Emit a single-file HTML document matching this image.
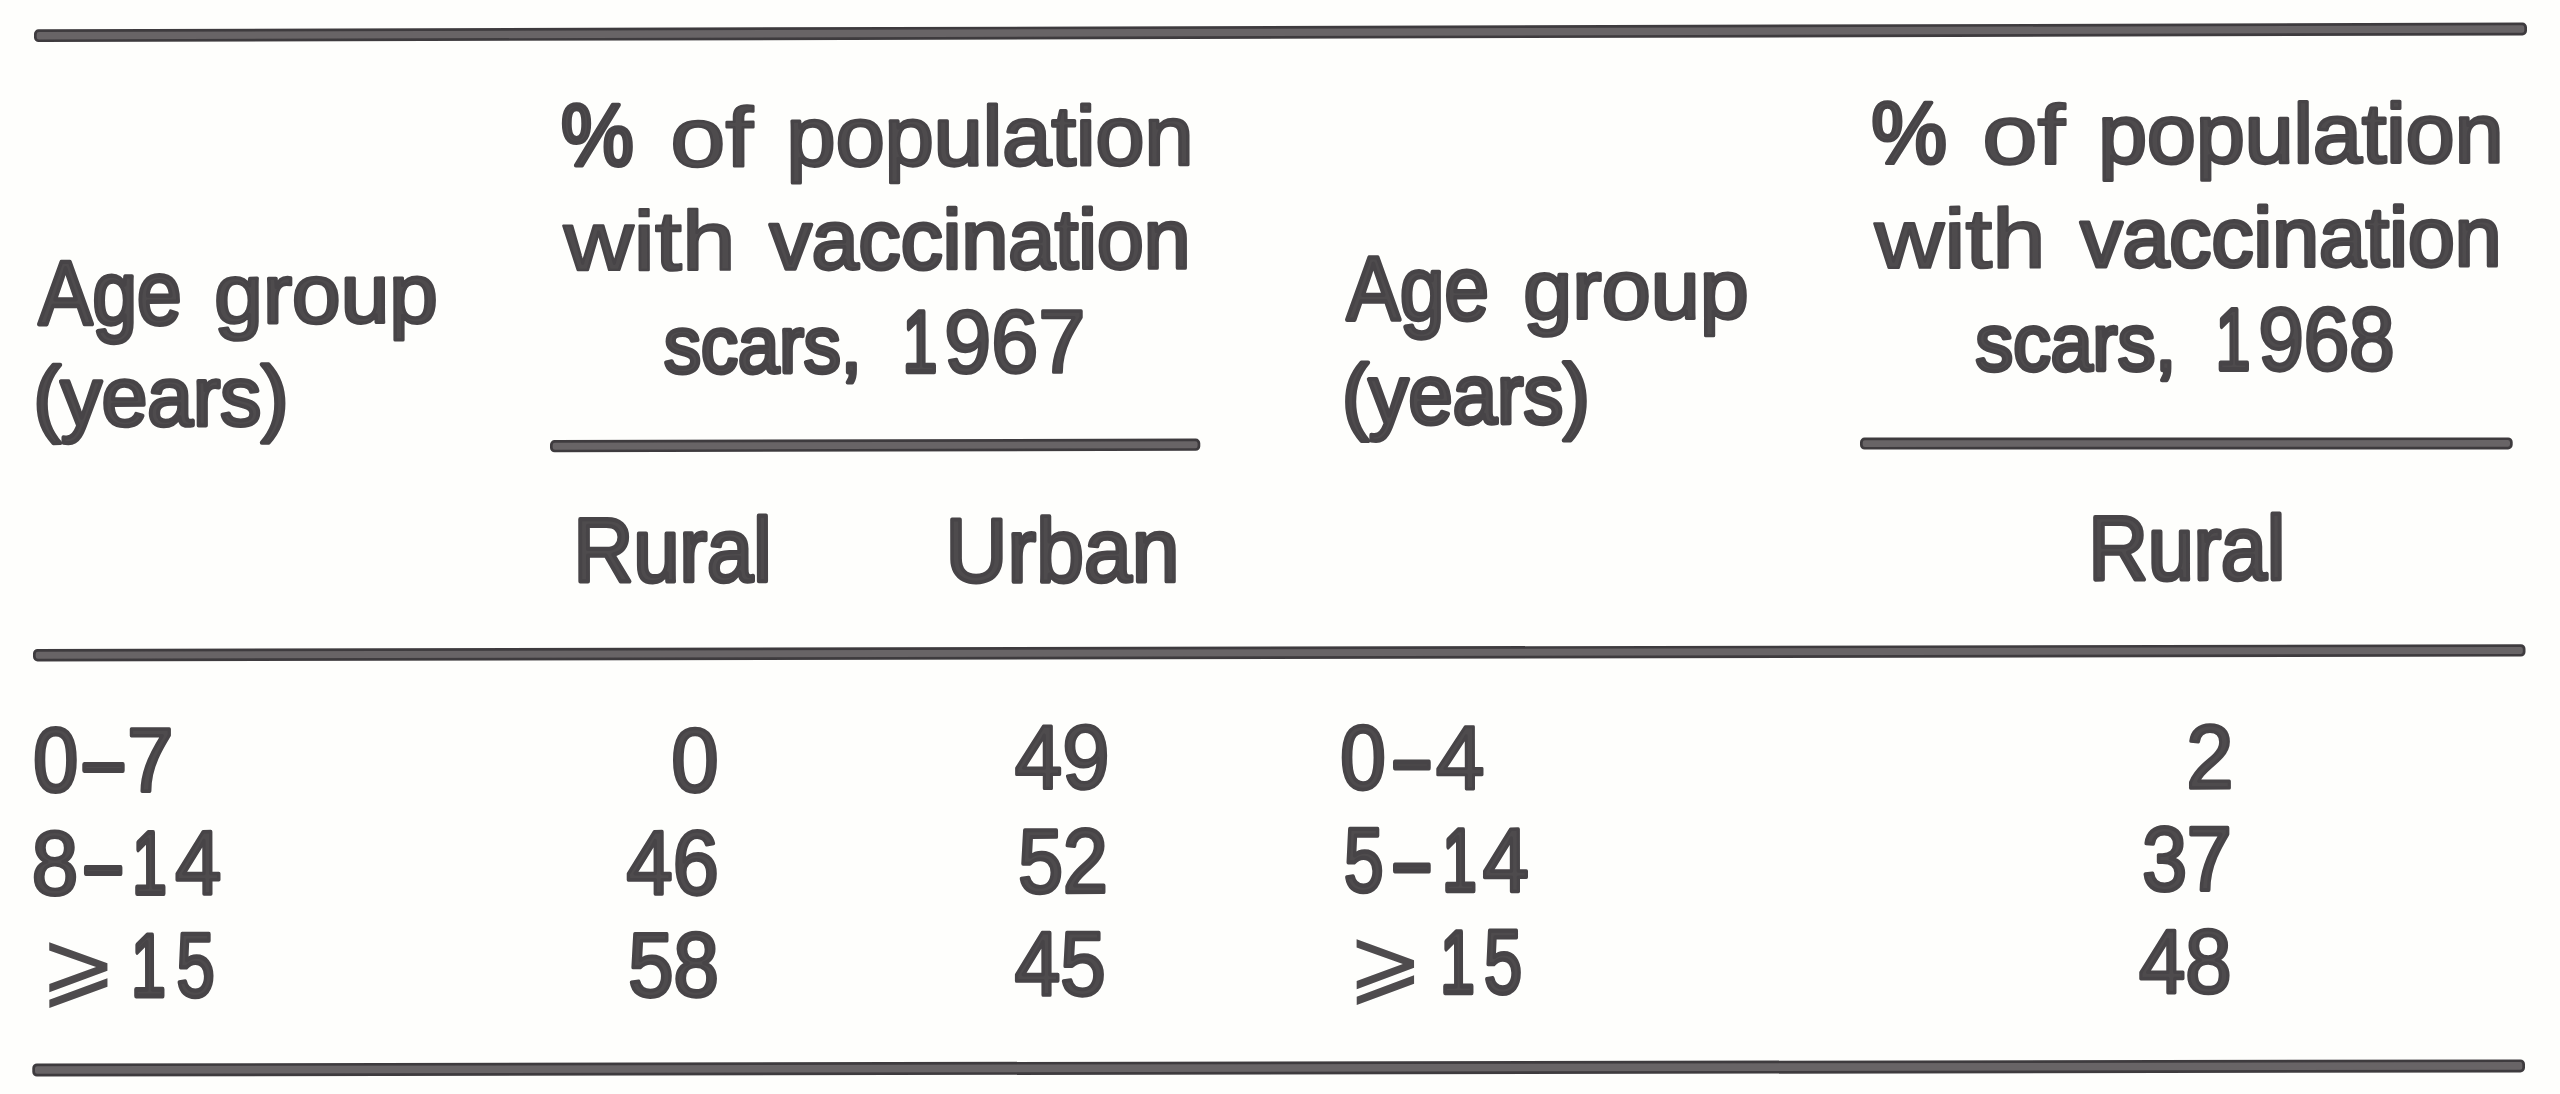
<!DOCTYPE html>
<html lang="en">
<head>
<meta charset="utf-8">
<title>Vaccination scar survey, 1967 and 1968</title>
<style>
html,body{margin:0;padding:0;background:#fefefc;}
body{width:2560px;height:1094px;overflow:hidden;position:relative;}
svg{position:absolute;left:0;top:0;display:block;filter:blur(0.7px);}
text{font-family:"Liberation Sans","DejaVu Sans",sans-serif;fill:#4e4b4d;stroke:#474447;stroke-width:3.0;stroke-linejoin:round;paint-order:fill stroke;}
.ge{stroke:none;}
.one{stroke-width:5;}
.dash{stroke-width:5;}
.r1{fill:#3e3b3e;}
.r2{fill:#686466;}
</style>
</head>
<body>
<svg width="2560" height="1094" viewBox="0 0 2560 1094">
<g>
<g transform="rotate(-0.1540 34.00 35.70)"><rect class="r1" x="34.00" y="29.30" width="2493.01" height="12.80" rx="4.6"/><rect class="r2" x="36.70" y="32.00" width="2487.61" height="7.40" rx="2.2"/></g>
<g transform="rotate(-0.1322 550.00 446.20)"><rect class="r1" x="550.00" y="440.05" width="650.30" height="12.30" rx="4.6"/><rect class="r2" x="552.70" y="442.75" width="644.90" height="6.90" rx="2.2"/></g>
<g transform="rotate(-0.0176 1860.00 443.60)"><rect class="r1" x="1860.00" y="437.60" width="652.70" height="12.00" rx="4.6"/><rect class="r2" x="1862.70" y="440.30" width="647.30" height="6.60" rx="2.2"/></g>
<g transform="rotate(-0.1103 33.00 655.20)"><rect class="r1" x="33.00" y="649.00" width="2492.50" height="12.40" rx="4.6"/><rect class="r2" x="35.70" y="651.70" width="2487.10" height="7.00" rx="2.2"/></g>
<g transform="rotate(-0.0942 32.30 1070.00)"><rect class="r1" x="32.30" y="1063.50" width="2492.70" height="13.00" rx="4.6"/><rect class="r2" x="35.00" y="1066.20" width="2487.30" height="7.60" rx="2.2"/></g>
<text transform="rotate(-0.13 236.3 326.0)"><tspan id="lA" stroke-width="4.30" x="38.80" y="323.85" font-size="90.50" textLength="143.00" lengthAdjust="spacingAndGlyphs">Age</tspan> <tspan id="lG" stroke-width="3.36" x="214.25" y="322.82" font-size="84.00" textLength="223.69" lengthAdjust="spacingAndGlyphs">group</tspan></text>
<text transform="rotate(-0.13 161.0 427.5)"><tspan id="lY" stroke-width="4.05" x="33.40" y="425.48" font-size="84.00" textLength="255.20" lengthAdjust="spacingAndGlyphs">(years)</tspan></text>
<text transform="rotate(-0.13 876.0 167.0)"><tspan id="lP1" stroke-width="4.26" x="561.10" y="164.87" font-size="88.00" textLength="72.80" lengthAdjust="spacingAndGlyphs">%</tspan> <tspan id="lP2" stroke-width="2.40" x="670.30" y="165.80" font-size="84.00" textLength="82.90" lengthAdjust="spacingAndGlyphs">of</tspan> <tspan id="lP3" stroke-width="3.27" x="786.64" y="165.37" font-size="84.00" textLength="406.96" lengthAdjust="spacingAndGlyphs">population</tspan></text>
<text transform="rotate(-0.13 874.5 270.6)"><tspan id="lW1" stroke-width="2.40" x="563.85" y="269.40" font-size="84.00" textLength="171.79" lengthAdjust="spacingAndGlyphs">with</tspan> <tspan id="lW2" stroke-width="3.77" x="769.80" y="268.72" font-size="84.00" textLength="420.75" lengthAdjust="spacingAndGlyphs">vaccination</tspan></text>
<text transform="rotate(-0.13 873.2 374.3)"><tspan id="lS1" stroke-width="4.30" x="664.00" y="372.15" font-size="80.00" textLength="197.45" lengthAdjust="spacingAndGlyphs">scars,</tspan> <tspan id="lS2a" class="one" x="902.73" y="371.80" font-size="87.00" textLength="34.50" lengthAdjust="spacingAndGlyphs">1</tspan><tspan id="lS2b" stroke-width="3.30" x="944.30" y="372.65" font-size="89.00" textLength="141.16" lengthAdjust="spacingAndGlyphs">967</tspan></text>
<text transform="rotate(-0.13 673.1 583.5)"><tspan id="lR" stroke-width="4.23" x="573.50" y="581.38" font-size="90.50" textLength="198.15" lengthAdjust="spacingAndGlyphs">Rural</tspan></text>
<text transform="rotate(-0.13 1062.8 583.5)"><tspan id="lU" stroke-width="3.82" x="945.50" y="581.59" font-size="90.50" textLength="234.05" lengthAdjust="spacingAndGlyphs">Urban</tspan></text>
<text transform="rotate(-0.13 1545.8 321.5)"><tspan id="rA" stroke-width="4.30" x="1346.80" y="319.35" font-size="90.50" textLength="142.05" lengthAdjust="spacingAndGlyphs">Age</tspan> <tspan id="rG" stroke-width="3.26" x="1523.20" y="318.67" font-size="84.00" textLength="225.74" lengthAdjust="spacingAndGlyphs">group</tspan></text>
<text transform="rotate(-0.13 1466.0 425.5)"><tspan id="rY" stroke-width="4.30" x="1342.30" y="423.35" font-size="84.00" textLength="247.40" lengthAdjust="spacingAndGlyphs">(years)</tspan></text>
<text transform="rotate(-0.13 2186.0 164.5)"><tspan id="rP1" stroke-width="3.79" x="1871.15" y="162.60" font-size="88.00" textLength="75.89" lengthAdjust="spacingAndGlyphs">%</tspan> <tspan id="rP2" stroke-width="2.40" x="1982.30" y="163.30" font-size="84.00" textLength="82.90" lengthAdjust="spacingAndGlyphs">of</tspan> <tspan id="rP3" stroke-width="3.32" x="2098.21" y="162.84" font-size="84.00" textLength="405.34" lengthAdjust="spacingAndGlyphs">population</tspan></text>
<text transform="rotate(-0.13 2185.5 268.3)"><tspan id="rW1" stroke-width="2.43" x="1874.80" y="267.09" font-size="84.00" textLength="170.84" lengthAdjust="spacingAndGlyphs">with</tspan> <tspan id="rW2" stroke-width="3.76" x="2080.42" y="266.42" font-size="84.00" textLength="421.18" lengthAdjust="spacingAndGlyphs">vaccination</tspan></text>
<text transform="rotate(-0.13 2184.1 372.0)"><tspan id="rS1" stroke-width="4.30" x="1975.62" y="369.85" font-size="80.00" textLength="200.50" lengthAdjust="spacingAndGlyphs">scars,</tspan> <tspan id="rS2a" class="one" x="2215.73" y="369.50" font-size="87.00" textLength="34.50" lengthAdjust="spacingAndGlyphs">1</tspan><tspan id="rS2b" stroke-width="3.70" x="2258.44" y="370.15" font-size="89.00" textLength="136.12" lengthAdjust="spacingAndGlyphs">968</tspan></text>
<text transform="rotate(-0.13 2187.2 581.5)"><tspan id="rR" stroke-width="4.30" x="2088.50" y="579.35" font-size="90.50" textLength="196.67" lengthAdjust="spacingAndGlyphs">Rural</tspan></text>
<text transform="rotate(-0.13 102.8 793.0)"><tspan id="d11a" stroke-width="3.84" x="33.20" y="791.08" font-size="90.50" textLength="45.03" lengthAdjust="spacingAndGlyphs">0</tspan><tspan id="d11b" class="dash" x="84.37" y="790.50" font-size="90.50" textLength="38.59" lengthAdjust="spacingAndGlyphs">–</tspan><tspan id="d11c" stroke-width="3.52" x="127.30" y="791.24" font-size="90.50" textLength="46.35" lengthAdjust="spacingAndGlyphs">7</tspan></text>
<text transform="rotate(-0.13 127.4 896.0)"><tspan id="d21a" stroke-width="3.48" x="31.68" y="894.26" font-size="90.50" textLength="46.50" lengthAdjust="spacingAndGlyphs">8</tspan><tspan id="d21b" class="dash" x="85.80" y="893.50" font-size="90.50" textLength="35.02" lengthAdjust="spacingAndGlyphs">–</tspan><tspan id="d21c" class="one" x="132.30" y="893.50" font-size="88.50" textLength="34.50" lengthAdjust="spacingAndGlyphs">1</tspan><tspan id="d21d" stroke-width="3.58" x="175.24" y="894.21" font-size="90.50" textLength="46.09" lengthAdjust="spacingAndGlyphs">4</tspan></text>
<text transform="rotate(-0.13 131.3 998.4)"><tspan id="d31a" class="ge" x="39.53" y="996.40" font-size="93.50" textLength="77.80" lengthAdjust="spacingAndGlyphs">⩾</tspan><tspan id="d31b" class="one" x="131.30" y="995.90" font-size="88.50" textLength="34.50" lengthAdjust="spacingAndGlyphs">1</tspan><tspan id="d31c" stroke-width="4.30" x="176.48" y="996.25" font-size="90.50" textLength="38.32" lengthAdjust="spacingAndGlyphs">5</tspan></text>
<text transform="rotate(-0.13 695.2 793.0)"><tspan id="d12" stroke-width="3.24" x="671.25" y="791.38" font-size="90.50" textLength="47.55" lengthAdjust="spacingAndGlyphs">0</tspan></text>
<text transform="rotate(-0.13 671.9 895.8)"><tspan id="d22" stroke-width="3.58" x="626.62" y="894.01" font-size="90.50" textLength="92.18" lengthAdjust="spacingAndGlyphs">46</tspan></text>
<text transform="rotate(-0.13 673.5 998.0)"><tspan id="d32" stroke-width="3.78" x="628.20" y="996.11" font-size="90.50" textLength="90.60" lengthAdjust="spacingAndGlyphs">58</tspan></text>
<text transform="rotate(-0.13 1061.2 790.0)"><tspan id="d13" stroke-width="3.27" x="1014.86" y="788.37" font-size="90.50" textLength="94.84" lengthAdjust="spacingAndGlyphs">49</tspan></text>
<text transform="rotate(-0.13 1062.8 894.3)"><tspan id="d23" stroke-width="3.91" x="1018.20" y="892.34" font-size="90.50" textLength="89.55" lengthAdjust="spacingAndGlyphs">52</tspan></text>
<text transform="rotate(-0.13 1059.7 996.9)"><tspan id="d33" stroke-width="3.73" x="1014.86" y="995.03" font-size="90.50" textLength="90.94" lengthAdjust="spacingAndGlyphs">45</tspan></text>
<text transform="rotate(-0.13 1412.7 790.5)"><tspan id="d14a" stroke-width="3.70" x="1340.20" y="788.65" font-size="90.50" textLength="45.60" lengthAdjust="spacingAndGlyphs">0</tspan><tspan id="d14b" class="dash" x="1394.80" y="788.00" font-size="90.50" textLength="34.35" lengthAdjust="spacingAndGlyphs">–</tspan><tspan id="d14c" stroke-width="2.93" x="1435.72" y="789.03" font-size="90.50" textLength="48.94" lengthAdjust="spacingAndGlyphs">4</tspan></text>
<text transform="rotate(-0.13 1436.8 893.3)"><tspan id="d24a" stroke-width="4.30" x="1344.10" y="891.15" font-size="90.50" textLength="39.56" lengthAdjust="spacingAndGlyphs">5</tspan><tspan id="d24b" class="dash" x="1394.80" y="890.80" font-size="90.50" textLength="34.35" lengthAdjust="spacingAndGlyphs">–</tspan><tspan id="d24c" class="one" x="1442.30" y="890.80" font-size="88.50" textLength="34.50" lengthAdjust="spacingAndGlyphs">1</tspan><tspan id="d24d" stroke-width="3.58" x="1482.86" y="891.51" font-size="90.50" textLength="46.09" lengthAdjust="spacingAndGlyphs">4</tspan></text>
<text transform="rotate(-0.13 1438.6 995.3)"><tspan id="d34a" class="ge" x="1347.05" y="993.30" font-size="93.50" textLength="76.80" lengthAdjust="spacingAndGlyphs">⩾</tspan><tspan id="d34b" class="one" x="1440.16" y="992.80" font-size="88.50" textLength="34.50" lengthAdjust="spacingAndGlyphs">1</tspan><tspan id="d34c" stroke-width="4.30" x="1484.10" y="993.15" font-size="90.50" textLength="38.13" lengthAdjust="spacingAndGlyphs">5</tspan></text>
<text transform="rotate(-0.13 2210.0 789.5)"><tspan id="d15" stroke-width="3.27" x="2186.30" y="787.87" font-size="90.50" textLength="47.40" lengthAdjust="spacingAndGlyphs">2</tspan></text>
<text transform="rotate(-0.13 2186.8 892.0)"><tspan id="d25" stroke-width="3.91" x="2142.20" y="890.04" font-size="90.50" textLength="89.55" lengthAdjust="spacingAndGlyphs">37</tspan></text>
<text transform="rotate(-0.13 2184.2 994.5)"><tspan id="d35" stroke-width="3.51" x="2139.00" y="992.75" font-size="90.50" textLength="92.75" lengthAdjust="spacingAndGlyphs">48</tspan></text>
</g>
</svg>
</body>
</html>
